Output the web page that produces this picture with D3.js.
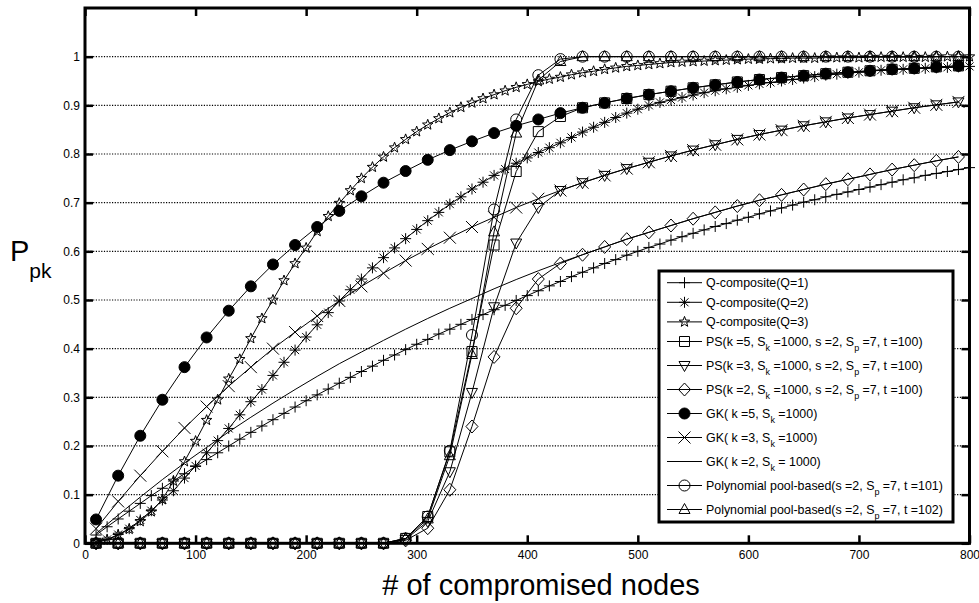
<!DOCTYPE html>
<html>
<head>
<meta charset="utf-8">
<style>
  body { margin: 0; background: #fff; }
  svg text { font-family: "Liberation Sans", Arial, sans-serif; fill: #000; }
  .tick text { font-size: 12px; }
  .tick line { stroke: #000; stroke-width: 2.5; }
  .grid line { stroke: #000; stroke-width: 1.2; stroke-dasharray: 1.2,1.5; }
  .curve { fill: none; stroke: #000; stroke-width: 1; }
</style>
<script src="https://cdn.jsdelivr.net/npm/d3@7"></script>
</head>
<body>
<svg width="979" height="603"></svg>
<script>
// x samples (number of compromised nodes)
var nodesQ = d3.range(10, 801, 10);   // Q-composite curves, every 10
var nodesK = d3.range(10, 791, 20);   // PS / GK / polynomial curves, every 20

var xTicks = [0, 100, 200, 300, 400, 500, 600, 700, 800];
var yTicks = [0, 0.1, 0.2, 0.3, 0.4, 0.5, 0.6, 0.7, 0.8, 0.9, 1];
var yTickLabels = ["0", "0.1", "0.2", "0.3", "0.4", "0.5", "0.6", "0.7", "0.8", "0.9", "1"];

var qc1 = [0.017,0.034,0.050,0.066,0.082,0.098,0.113,0.128,0.143,0.158,
  0.172,0.186,0.200,0.214,0.228,0.241,0.254,0.267,0.280,0.293,
  0.305,0.317,0.329,0.341,0.353,0.364,0.376,0.387,0.398,0.409,
  0.419,0.430,0.440,0.450,0.460,0.470,0.480,0.489,0.499,0.509,
  0.519,0.529,0.538,0.548,0.557,0.566,0.575,0.583,0.592,0.600,
  0.608,0.615,0.623,0.630,0.637,0.644,0.651,0.657,0.664,0.670,
  0.677,0.683,0.689,0.695,0.701,0.706,0.712,0.717,0.722,0.727,
  0.732,0.737,0.742,0.747,0.751,0.756,0.760,0.764,0.768,0.772];

var qc2 = [0.002,0.008,0.018,0.030,0.048,0.067,0.089,0.108,0.134,0.159,
  0.186,0.211,0.236,0.264,0.291,0.316,0.345,0.372,0.397,0.424,
  0.449,0.474,0.498,0.521,0.543,0.566,0.587,0.607,0.626,0.645,
  0.663,0.680,0.697,0.712,0.728,0.742,0.756,0.769,0.781,0.792,
  0.803,0.813,0.823,0.834,0.845,0.855,0.865,0.875,0.884,0.892,
  0.900,0.906,0.911,0.916,0.921,0.926,0.930,0.934,0.937,0.941,
  0.944,0.947,0.950,0.953,0.956,0.959,0.962,0.964,0.966,0.968,
  0.970,0.972,0.973,0.974,0.975,0.976,0.977,0.978,0.979,0.980];

var qc3 = [0.002,0.007,0.017,0.029,0.045,0.065,0.090,0.128,0.168,0.210,
  0.253,0.295,0.338,0.378,0.421,0.462,0.500,0.540,0.575,0.607,
  0.641,0.672,0.699,0.725,0.750,0.773,0.794,0.813,0.830,0.846,
  0.860,0.873,0.885,0.896,0.905,0.914,0.922,0.930,0.937,0.943,
  0.949,0.954,0.958,0.963,0.967,0.970,0.974,0.977,0.980,0.982,
  0.984,0.986,0.988,0.989,0.990,0.991,0.992,0.993,0.994,0.995,
  0.995,0.996,0.996,0.997,0.997,0.997,0.998,0.998,0.998,0.998,
  0.999,0.999,0.999,0.999,0.999,0.999,1.000,1.000,1.000,1.000];

var ps5 = [0,0,0,0,0,0,0,0,0,0,0,0,0,0,
  0.010,0.055,0.188,0.394,0.613,0.764,0.846,0.877,0.895,0.905,
  0.914,0.922,0.929,0.936,0.942,0.948,0.953,0.957,0.961,0.965,
  0.968,0.971,0.974,0.976,0.979,0.981];

var ps3 = [0,0,0,0,0,0,0,0,0,0,0,0,0,0,
  0.008,0.045,0.147,0.310,0.486,0.617,0.690,0.725,0.741,0.756,
  0.770,0.783,0.796,0.808,0.819,0.830,0.840,0.849,0.858,0.866,
  0.874,0.881,0.888,0.895,0.901,0.907];

var ps2 = [0,0,0,0,0,0,0,0,0,0,0,0,0,0,
  0.006,0.031,0.110,0.240,0.383,0.483,0.543,0.575,0.593,0.609,
  0.625,0.639,0.653,0.667,0.680,0.693,0.705,0.716,0.727,0.738,
  0.748,0.758,0.768,0.777,0.786,0.794];

var gk5 = [0.049,0.139,0.221,0.295,0.362,0.423,0.478,0.528,0.573,0.613,
  0.650,0.683,0.713,0.741,0.765,0.788,0.808,0.826,0.843,0.858,
  0.871,0.884,0.895,0.905,0.914,0.922,0.929,0.936,0.942,0.948,
  0.953,0.957,0.961,0.965,0.968,0.971,0.974,0.976,0.979,0.981];

var gk3 = [0.030,0.086,0.139,0.189,0.237,0.281,0.323,0.362,0.400,0.434,
  0.467,0.498,0.528,0.555,0.581,0.605,0.628,0.650,0.670,0.690,
  0.708,0.725,0.741,0.756,0.770,0.783,0.796,0.808,0.819,0.830,
  0.840,0.849,0.858,0.866,0.874,0.881,0.888,0.895,0.901,0.907];

var gk2 = [0.020,0.058,0.095,0.131,0.165,0.197,0.229,0.259,0.288,0.316,
  0.343,0.369,0.393,0.417,0.440,0.462,0.483,0.503,0.523,0.542,
  0.560,0.577,0.593,0.609,0.625,0.639,0.653,0.667,0.680,0.693,
  0.705,0.716,0.727,0.738,0.748,0.758,0.768,0.777,0.786,0.794];

var poly101 = [0,0,0,0,0,0,0,0,0,0,0,0,0,0,
  0.010,0.055,0.190,0.428,0.686,0.871,0.962,0.995,1,1,
  1,1,1,1,1,1,1,1,1,1,1,1,1,1,1,1];

var poly102 = [0,0,0,0,0,0,0,0,0,0,0,0,0,0,
  0.010,0.050,0.180,0.388,0.640,0.843,0.952,0.990,1,1,
  1,1,1,1,1,1,1,1,1,1,1,1,1,1,1,1];

var labels = ["Q-composite(Q=1)", "Q-composite(Q=2)", "Q-composite(Q=3)",
  "PS(k =5, S_k =1000, s =2, S_p =7, t =100)",
  "PS(k =3, S_k =1000, s =2, S_p =7, t =100)",
  "PS(k =2, S_k =1000, s =2, S_p =7, t =100)",
  "GK( k =5, S_k =1000)", "GK( k =3, S_k =1000)", "GK( k =2, S_k = 1000)",
  "Polynomial pool-based(s =2, S_p =7, t =101)",
  "Polynomial pool-based(s =2, S_p =7, t =102)"];
var markers = ["plus", "asterisk", "star", "square", "triDown", "diamond", "dot", "cross", "none", "circle", "triUp"];

var series = [
  {x: nodesQ, y: qc1}, {x: nodesQ, y: qc2}, {x: nodesQ, y: qc3},
  {x: nodesK, y: ps5}, {x: nodesK, y: ps3}, {x: nodesK, y: ps2},
  {x: nodesK, y: gk5}, {x: nodesK, y: gk3}, {x: nodesK, y: gk2},
  {x: nodesK, y: poly101}, {x: nodesK, y: poly102}
];
series.forEach(function (s, i) {
  s.label = labels[i];
  s.marker = markers[i];
  s.points = s.x.map(function (v, j) { return [v, s.y[j]]; });
});

function markerPath(type) {
  var r = 5.5;
  switch (type) {
    case "plus": return "M-5.5,0H5.5M0,-5.5V5.5";
    case "asterisk": return "M-5.5,0H5.5M0,-5.5V5.5M-4,-4L4,4M-4,4L4,-4";
    case "cross": return "M-6,-6L6,6M-6,6L6,-6";
    case "square": return "M-5,-5H5V5H-5Z";
    case "diamond": return "M0,-6.5L6,0L0,6.5L-6,0Z";
    case "triUp": return "M0,-6L5.5,4L-5.5,4Z";
    case "triDown": return "M0,6L5.5,-4L-5.5,-4Z";
    case "circle":
    case "dot": return "M" + r + ",0A" + r + "," + r + " 0 1 1 " + (-r) + ",0A" + r + "," + r + " 0 1 1 " + r + ",0Z";
    case "star":
      var pts = d3.range(10).map(function (k) {
        var a = -Math.PI / 2 + k * Math.PI / 5, rr = k % 2 ? 2.3 : 5.5;
        return [rr * Math.cos(a), rr * Math.sin(a)];
      });
      return "M" + pts.join("L") + "Z";
  }
  return "";
}

var svg = d3.select("svg");
var x = d3.scaleLinear().domain([0, 800]).range([85, 969.5]);
var y = d3.scaleLinear().domain([0, 1.1]).range([543.3, 8]);

// dotted grid
svg.append("g").attr("class", "grid")
  .selectAll("line").data(yTicks.slice(1)).enter().append("line")
  .attr("x1", x(0)).attr("x2", x(800))
  .attr("y1", function (d) { return y(d); }).attr("y2", function (d) { return y(d); });

// axes with inward ticks
var ax = svg.append("g").attr("class", "axes");
ax.append("g").attr("transform", "translate(0," + y(0) + ")")
  .call(d3.axisBottom(x).tickValues(xTicks).tickSizeInner(-8).tickSizeOuter(0).tickPadding(7));
ax.append("g").attr("transform", "translate(0," + y(1.1) + ")")
  .call(d3.axisTop(x).tickValues(xTicks).tickSizeInner(-8).tickSizeOuter(0).tickFormat(""));
ax.append("g").attr("transform", "translate(" + x(0) + ",0)")
  .call(d3.axisLeft(y).tickValues(yTicks).tickSizeInner(-8).tickSizeOuter(0).tickPadding(5)
    .tickFormat(function (d, i) { return yTickLabels[i]; }));
ax.append("g").attr("transform", "translate(" + x(800) + ",0)")
  .call(d3.axisRight(y).tickValues(yTicks).tickSizeInner(-8).tickSizeOuter(0).tickFormat(""));
ax.selectAll(".domain").remove();
ax.append("rect")
  .attr("x", x(0)).attr("y", y(1.1))
  .attr("width", x(800) - x(0)).attr("height", y(0) - y(1.1))
  .attr("fill", "none").attr("stroke", "#000").attr("stroke-width", 3);

// curves
var line = d3.line().x(function (d) { return x(d[0]); }).y(function (d) { return y(d[1]); });
var sg = svg.selectAll(".series").data(series).enter().append("g").attr("class", "series");
sg.append("path").attr("class", "curve").attr("d", function (s) { return line(s.points); });
sg.each(function (s) {
  if (s.marker === "none") return;
  d3.select(this).selectAll(".mk").data(s.points).enter().append("path")
    .attr("class", "mk")
    .attr("transform", function (d) { return "translate(" + x(d[0]) + "," + y(d[1]) + ")"; })
    .attr("d", markerPath(s.marker))
    .attr("fill", s.marker === "dot" ? "#000" : "none")
    .attr("stroke", "#000").attr("stroke-width", 1);
});

// axis titles
svg.append("text").attr("x", 541).attr("y", 595).attr("text-anchor", "middle")
  .style("font-size", "29px").text("# of compromised nodes");
var yl = svg.append("text").attr("x", 10).attr("y", 261).style("font-size", "29px");
yl.append("tspan").text("P");
yl.append("tspan").attr("dy", 17).style("font-size", "21px").text("pk");

// legend
var lg = svg.append("g").attr("class", "legend");
lg.append("rect").attr("x", 659).attr("y", 271).attr("width", 294).attr("height", 251)
  .attr("fill", "#fff").attr("stroke", "#000").attr("stroke-width", 3);
var rowY = 282.7;
series.forEach(function (s, i) {
  if (i > 0) rowY += /_/.test(labels[i - 1]) ? 24 : 19.6;
  var row = lg.append("g").attr("transform", "translate(0," + rowY + ")");
  row.append("line").attr("x1", 667).attr("x2", 702).attr("y1", 0).attr("y2", 0)
    .attr("stroke", "#000").attr("stroke-width", 1);
  if (s.marker !== "none") {
    row.append("path").attr("transform", "translate(684.5,0)")
      .attr("d", markerPath(s.marker))
      .attr("fill", s.marker === "dot" ? "#000" : "none")
      .attr("stroke", "#000").attr("stroke-width", 1);
  }
  var t = row.append("text").attr("x", 706).attr("y", 4.5).style("font-size", "12.4px");
  var parts = s.label.split(/_(\w)/);
  parts.forEach(function (p, k) {
    if (k % 2 === 1) {
      t.append("tspan").attr("dy", 5).style("font-size", "9px").text(p);
    } else if (p.length) {
      var ts = t.append("tspan").text(p);
      if (k > 0) ts.attr("dy", -5);
    }
  });
});
</script>
</body>
</html>
